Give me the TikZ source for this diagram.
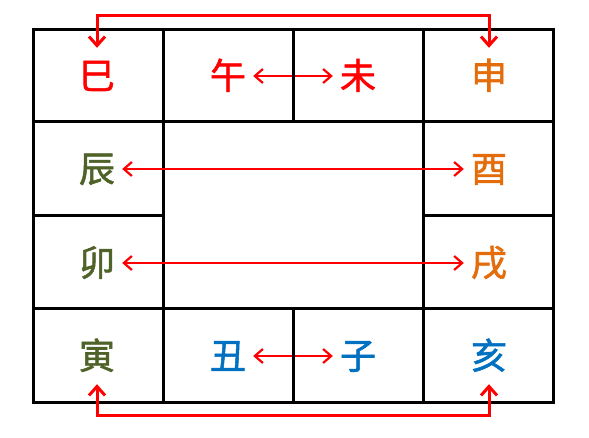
\documentclass[tikz,border=0pt]{standalone}
\usepackage{fontspec}
\newfontfamily\cjk[FakeBold=1.5]{Noto Sans CJK SC}
\usetikzlibrary{arrows.meta}
\definecolor{zred}{RGB}{255,0,0}
\definecolor{zorange}{RGB}{228,108,10}
\definecolor{zolive}{RGB}{79,98,40}
\definecolor{zblue}{RGB}{0,112,192}
\begin{document}
\begin{tikzpicture}[x=1pt,y=-1pt,
  grid/.style={line width=3pt,black},
  ch/.style={font=\cjk\fontsize{36}{36}\selectfont,inner xsep=7pt,inner ysep=10pt,text height=31pt,text depth=5pt},
  thinarr/.style={zred,line width=2.2pt,{Straight Barb[length=8pt,width=14pt,line width=2.2pt]}-{Straight Barb[length=8pt,width=14pt,line width=2.2pt]}},
  thickarr/.style={zred,line width=3pt,{Straight Barb[length=9pt,width=16pt,line width=3pt]}-{Straight Barb[length=9pt,width=16pt,line width=3pt]}}]
\useasboundingbox (0,0) rectangle (589,438);
\fill[white] (0,0) rectangle (589,438);
% characters
\node[ch,text=zred] (si) at (97,76) {巳};
\node[ch,text=zred] (wu) at (228,76) {午};
\node[ch,text=zred] (wei) at (358,76) {未};
\node[ch,text=zorange] (shen) at (489,76) {申};
\node[ch,text=zolive] (chen) at (97,169) {辰};
\node[ch,text=zorange] (you) at (489,169) {酉};
\node[ch,text=zolive] (mao) at (97,263) {卯};
\node[ch,text=zorange] (xu) at (489,263) {戌};
\node[ch,text=zolive] (yin) at (97,356) {寅};
\node[ch,text=zblue] (chou) at (228,356) {丑};
\node[ch,text=zblue] (zi) at (358,356) {子};
\node[ch,text=zblue] (hai) at (489,356) {亥};
% short arrows
\draw[thinarr] (wu) -- (wei);
\draw[thinarr] (chou) -- (zi);
% grid
\draw[grid] (33,30) rectangle (553,402);
\draw[grid] (33,122) -- (553,122);
\draw[grid] (33,309) -- (553,309);
\draw[grid] (33,216) -- (163,216);
\draw[grid] (423,216) -- (553,216);
\draw[grid] (163,30) -- (163,402);
\draw[grid] (423,30) -- (423,402);
\draw[grid] (293,30) -- (293,122);
\draw[grid] (293,309) -- (293,402);
% long arrows
\draw[thinarr] (chen) -- (you);
\draw[thinarr] (mao) -- (xu);
\coordinate (topline) at (0,16);
\coordinate (botline) at (0,415);
\draw[thickarr] (si.north) -- (si.north |- topline) -| (shen.north);
\draw[thickarr] (yin.south) -- (yin.south |- botline) -| (hai.south);
\end{tikzpicture}
\end{document}
